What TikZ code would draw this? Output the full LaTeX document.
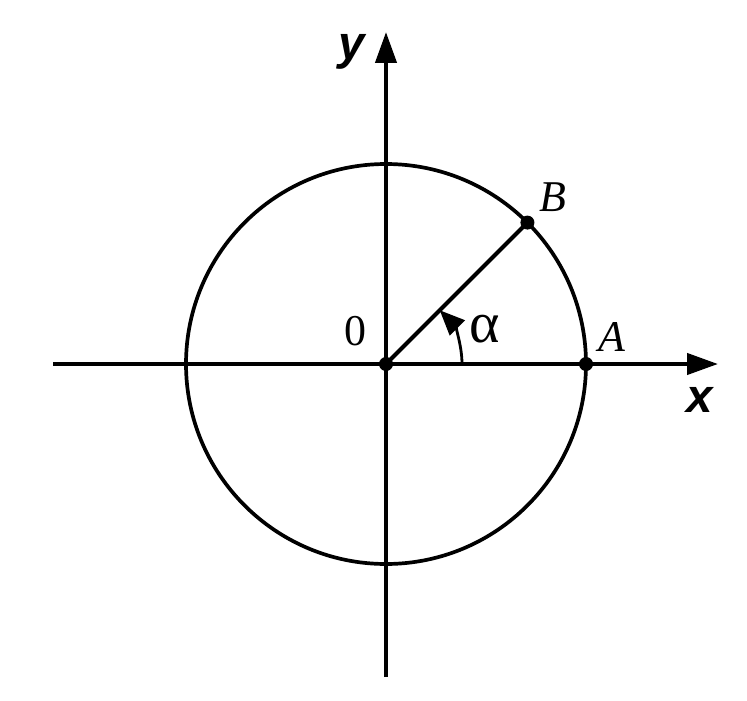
\documentclass[tikz,border=0pt]{standalone}
\usepackage{fontspec}
\setmainfont{Liberation Serif}
\newfontfamily\axisfont{Liberation Sans}
\usetikzlibrary{arrows.meta}
\tikzset{
  axisline/.style={line width=2.4pt, -{Triangle[length=0.62cm,width=0.42cm]}},
  curveline/.style={line width=2.1pt},
  dotpt/.style={circle, fill=black, inner sep=0pt, minimum size=0.28cm},
  lbl/.style={font=\fontsize{25}{30}\selectfont, inner sep=0pt},
  axlbl/.style={font=\axisfont\bfseries\itshape\fontsize{27}{32}\selectfont, inner sep=0pt}
}
\begin{document}
\begin{tikzpicture}[x=0.02cm,y=-0.02cm]
\useasboundingbox (0,0) rectangle (747,700);
\coordinate (xs) at (53,364);
\coordinate (xe) at (718,364);
\coordinate (ys) at (386,677);
\coordinate (ye) at (386,32);
\draw[axisline] (xs) -- (xe);
\draw[axisline] (ys) -- (ye);
\draw[curveline] (386,364) circle (200);
\node[dotpt] (O) at (386,364) {};
\node[dotpt] (A) at (586,364) {};
\node[dotpt] (B) at ({386+200*cos(45)},{364-200*sin(45)}) {};
\draw[line width=2.4pt] (O.center) -- (B.center);
\draw[line width=1.6pt, -{Triangle[length=0.5cm,width=0.42cm]}] (462,364) arc[start angle=0, end angle=-45, radius=76];
\node[lbl] (l0) at (355,331) {0};
\node[lbl, font=\fontsize{33}{38}\selectfont] (la) at (485,329) {α};
\node[lbl] (lA) at (612,337) {\textit{A}};
\node[lbl] (lB) at (553,197) {\textit{B}};
\node[axlbl] (ly) at (352,52) {y};
\node[axlbl] (lx) at (700,400) {x};
\end{tikzpicture}
\end{document}
